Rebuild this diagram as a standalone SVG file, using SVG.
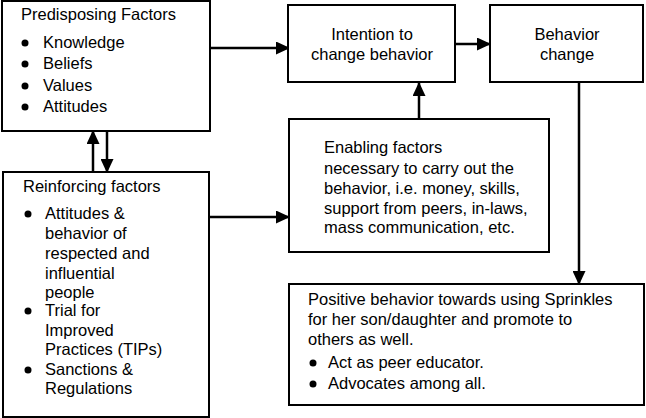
<svg xmlns="http://www.w3.org/2000/svg" width="646" height="418" viewBox="0 0 646 418">
<defs>
<style>
.box{fill:#fff;stroke:#000;stroke-width:2}
text{font-family:"Liberation Sans",Arial,sans-serif;font-size:16.5px;fill:#000}
.c{text-anchor:middle}
.ln{stroke:#000;stroke-width:2.5;fill:none}
</style>
<marker id="ah" viewBox="0 0 14 13" refX="13" refY="6.5" markerWidth="14" markerHeight="13" markerUnits="userSpaceOnUse" orient="auto">
<path d="M0,0 L14,6.5 L0,13 Z" fill="#000"/>
</marker>
</defs>
<g id="connectors">
<line class="ln" x1="210" y1="48" x2="289" y2="48" marker-end="url(#ah)"/>
<line class="ln" x1="455" y1="44" x2="490" y2="44" marker-end="url(#ah)"/>
<line class="ln" x1="419" y1="119" x2="419" y2="83" marker-end="url(#ah)"/>
<line class="ln" x1="209" y1="217" x2="289" y2="217" marker-end="url(#ah)"/>
<line class="ln" x1="579" y1="82" x2="579" y2="284" marker-end="url(#ah)"/>
<line class="ln" x1="93" y1="172" x2="93" y2="131" marker-end="url(#ah)"/>
<line class="ln" x1="107" y1="131" x2="107" y2="172" marker-end="url(#ah)"/>
</g>
<g id="predisposing">
<rect class="box" x="2" y="1" width="208" height="130"/>
<text x="21" y="20">Predisposing Factors</text>
<circle cx="25" cy="43" r="3.5"/><text x="43" y="48">Knowledge</text>
<circle cx="25" cy="64" r="3.5"/><text x="43" y="69">Beliefs</text>
<circle cx="25" cy="86" r="3.5"/><text x="43" y="91">Values</text>
<circle cx="25" cy="107" r="3.5"/><text x="43" y="112">Attitudes</text>
</g>
<g id="reinforcing">
<rect class="box" x="3" y="172" width="206" height="245"/>
<text x="23" y="192">Reinforcing factors</text>
<circle cx="28" cy="214" r="3.5"/>
<text x="45" y="219">Attitudes &amp;</text>
<text x="45" y="239">behavior of</text>
<text x="45" y="259">respected and</text>
<text x="45" y="279">influential</text>
<text x="45" y="298">people</text>
<circle cx="28" cy="311" r="3.5"/>
<text x="45" y="316">Trial for</text>
<text x="45" y="336">Improved</text>
<text x="45" y="355">Practices (TIPs)</text>
<circle cx="28" cy="370" r="3.5"/>
<text x="45" y="375">Sanctions &amp;</text>
<text x="45" y="394">Regulations</text>
</g>
<g id="intention">
<rect class="box" x="288" y="5" width="167" height="77"/>
<text class="c" x="372" y="40">Intention to</text>
<text class="c" x="372" y="60">change behavior</text>
</g>
<g id="behavior">
<rect class="box" x="490" y="5" width="153" height="77"/>
<text class="c" x="567" y="40">Behavior</text>
<text class="c" x="567" y="60">change</text>
</g>
<g id="enabling">
<rect class="box" x="289" y="119" width="260" height="133"/>
<text x="324" y="153">Enabling factors</text>
<text x="324" y="174">necessary to carry out the</text>
<text x="324" y="194">behavior, i.e. money, skills,</text>
<text x="324" y="214">support from peers, in-laws,</text>
<text x="324" y="233">mass communication, etc.</text>
</g>
<g id="positive">
<rect class="box" x="289" y="284" width="355" height="121"/>
<text x="308" y="305">Positive behavior towards using Sprinkles</text>
<text x="308" y="325">for her son/daughter and promote to</text>
<text x="308" y="345">others as well.</text>
<circle cx="313" cy="363" r="3.5"/><text x="328" y="368">Act as peer educator.</text>
<circle cx="313" cy="384" r="3.5"/><text x="328" y="389">Advocates among all.</text>
</g>
</svg>
